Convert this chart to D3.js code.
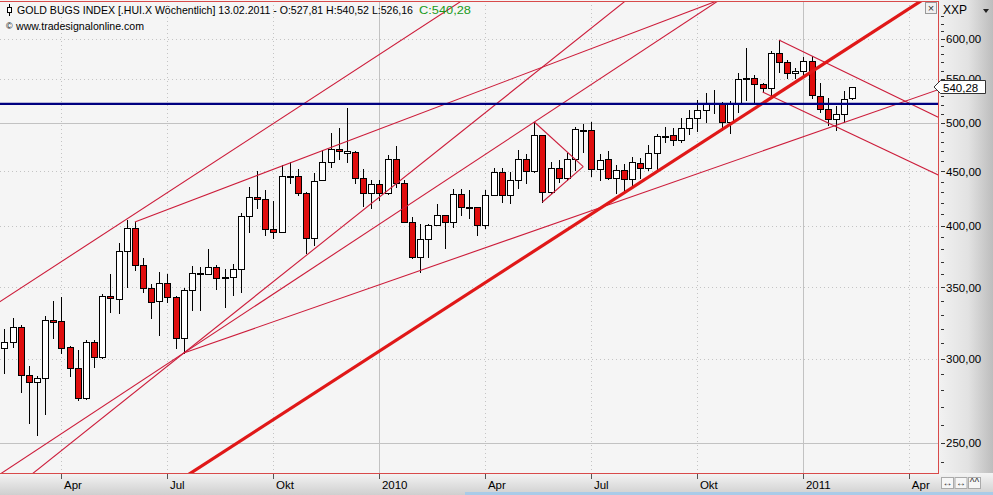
<!DOCTYPE html>
<html><head><meta charset="utf-8">
<script src="https://cdn.jsdelivr.net/npm/d3@7"></script>
<style>
body{margin:0;background:#fff;}
svg{display:block;font-family:"Liberation Sans",Arial,sans-serif;}
</style>
</head><body>
<svg id="c" width="993" height="495"></svg>
<script>
// ---------------- DATA ----------------
const firstWeek = "2009-02-15"; // weekly bars, one per week
const opens  = [306.9,311.0,321.3,289.6,285.2,287.7,326.2,325.5,307.6,294.0,275.4,311.0,301.0,343.6,341.3,378.8,398.1,367.4,349.6,339.9,
                353.4,342.8,313.7,348.1,361.1,360.3,365.8,358.0,358.0,364.2,408.6,425.8,424.0,397.3,394.7,444.6,445.6,429.5,389.6,441.7,
                459.3,472.5,468.4,469.4,443.6,429.5,437.8,429.5,462.3,438.8,403.4,373.8,388.7,400.6,409.5,403.4,428.5,416.6,416.6,400.6,
                427.6,449.4,427.6,441.7,462.3,450.4,487.0,430.4,453.4,443.6,462.3,492.3,492.3,452.4,462.3,443.6,451.4,442.7,458.3,453.4,
                468.4,486.0,487.0,481.8,494.5,505.3,514.1,521.9,521.9,500.9,521.9,551.0,551.0,544.0,539.3,581.6,570.5,557.0,559.4,571.6,
                530.0,515.2,504.2,509.6,527.81];
const highs  = [319.9,327.6,322.7,295.3,289.0,329.0,339.9,342.8,308.5,305.6,312.3,312.3,345.1,360.2,385.5,405.1,403.4,373.0,352.6,361.9,
                360.2,343.5,349.6,366.6,365.8,380.3,367.4,364.2,368.3,411.3,435.1,450.4,432.3,422.1,456.4,459.3,452.4,430.0,448.4,471.5,
                489.1,494.5,516.3,470.0,452.4,441.7,441.7,466.3,475.6,441.7,407.8,401.5,401.5,419.4,409.9,433.2,433.2,432.3,417.0,432.3,
                453.4,453.4,449.4,471.5,467.4,500.9,487.4,459.3,461.3,468.4,495.5,498.7,500.9,467.4,470.4,456.4,457.4,464.3,463.3,476.7,
                488.1,495.5,494.5,505.3,514.1,525.3,533.4,536.9,523.0,524.1,557.0,588.0,554.6,545.2,584.2,598.3,572.9,563.0,576.5,577.8,
                545.2,527.7,518.5,535.7,540.52];
const lows   = [290.8,307.6,279.1,260.9,254.2,266.0,313.7,303.6,288.9,274.2,275.0,294.6,300.5,331.9,331.2,350.3,363.4,346.6,327.6,315.7,
                339.1,306.9,303.6,333.3,333.3,360.0,348.8,335.5,344.3,346.6,394.7,415.7,392.2,389.6,394.5,438.8,427.6,377.1,383.7,441.5,
                454.4,462.3,459.3,438.8,417.6,415.7,423.0,429.0,435.1,403.0,373.0,361.9,373.8,400.3,381.3,399.0,409.5,406.9,392.2,398.0,
                427.2,421.2,420.3,434.1,438.8,449.4,421.2,429.5,439.8,441.7,451.4,469.4,445.6,441.7,442.7,429.5,429.5,436.0,443.6,451.4,
                451.4,479.7,476.7,479.7,488.1,491.3,500.9,510.8,492.3,489.1,511.9,525.3,523.0,534.6,528.8,558.2,551.0,551.0,552.2,527.7,
                511.9,497.8,492.3,500.9,526.16];
const closes = [311.0,321.3,289.6,285.2,287.7,326.2,324.8,306.9,294.0,275.4,311.0,301.0,343.6,342.1,378.8,398.1,367.4,349.6,339.1,353.4,
                342.8,313.7,348.1,361.1,360.3,365.8,357.2,357.2,364.2,408.6,425.8,424.0,397.3,394.7,445.6,445.6,429.5,389.6,440.7,459.3,
                472.5,470.4,470.4,443.6,429.5,437.8,429.5,462.3,438.8,403.4,373.8,388.7,400.6,409.5,403.4,428.5,416.6,415.9,400.6,427.6,
                449.4,427.6,441.7,462.3,450.4,487.0,430.4,453.4,443.6,462.3,493.4,491.3,452.4,461.3,443.6,451.4,442.7,459.3,453.4,468.4,
                486.0,484.9,481.8,494.5,505.3,514.1,520.8,520.8,500.9,521.9,549.8,549.8,544.0,539.3,581.6,570.5,557.0,559.4,571.6,531.1,
                515.2,504.2,509.6,526.4,540.28];

const xTickDates  = ["2009-04-05","2009-07-05","2009-10-04","2010-01-03","2010-04-04","2010-07-04","2010-10-03","2011-01-02","2011-04-03"];
const xTickLabels = ["Apr","Jul","Okt","2010","Apr","Jul","Okt","2011","Apr"];
const yTickValues = [250,300,350,400,450,500,550,600];
const solidYLevels = [250,500];
const blueLevel = 521;
const lastClose = 540.28;
const titleText = "GOLD BUGS INDEX [.HUI.X  Wöchentlich] 13.02.2011 - O:527,81 H:540,52 L:526,16";
const closeText = "C:540,28";
const sourceText = "www.tradesignalonline.com";

// trend lines: [weekIndex, price] anchor pairs + how far they run
const mainTrend = [[30,254],[100,565]];
const thinLines = [
  {a:[0,341.5],  b:[40,541.2],  run:"both"},
  {a:[16,403.4], b:[55,524.0],  run:"fwd"},
  {a:[22,303.6], b:[65,500.9],  run:"both"},
  {a:[22,303.6], b:[50,450.4],  run:"both"},
  {a:[22,303.6], b:[100,491.2], run:"fwd"},
  {a:[65,500.9], b:[71,454.7],  run:"seg"},
  {a:[66,421.2], b:[71,454.7],  run:"seg"},
  {a:[95,598.3], b:[114,508.5], run:"fwd"},
  {a:[93,534.6], b:[107.6,473.2], run:"fwd"}
];

// ---------------- CHART ----------------
const W = 993, H = 495;
const plot = {l:0, t:1, r:938, b:473};
const svg = d3.select("#c");
const day = 864e5;
const t0 = new Date(firstWeek + "T00:00:00Z").getTime();
const weekDate = i => new Date(t0 + i*7*day);
const parse = s => new Date(s + "T00:00:00Z");

const bars = opens.map((o,i)=>({d:weekDate(i), o, h:highs[i], l:lows[i], c:closes[i]}));

const x = d3.scaleUtc().domain([weekDate(0), weekDate(bars.length-1)]).range([4.4, 852.3]);
const y = d3.scaleLog().domain([250,600]).range([442.7,38.7]);

const defs = svg.append("defs");
const gR = defs.append("linearGradient").attr("id","gr").attr("x1","0").attr("x2","1").attr("y1","0").attr("y2","0");
gR.append("stop").attr("offset","0").attr("stop-color","#f2f2f2");
gR.append("stop").attr("offset","0.55").attr("stop-color","#e2e2e2");
gR.append("stop").attr("offset","1").attr("stop-color","#bdbdbd");
const gB = defs.append("linearGradient").attr("id","gb").attr("x1","0").attr("x2","0").attr("y1","0").attr("y2","1");
gB.append("stop").attr("offset","0").attr("stop-color","#f4f4f4");
gB.append("stop").attr("offset","1").attr("stop-color","#cfcfcf");
defs.append("clipPath").attr("id","clip").append("rect")
  .attr("x",plot.l).attr("y",plot.t).attr("width",plot.r-plot.l).attr("height",plot.b-plot.t);

// backgrounds
svg.append("rect").attr("x",0).attr("y",0).attr("width",W).attr("height",H).attr("fill","#f5f5f5");
svg.append("rect").attr("x",plot.r).attr("y",0).attr("width",W-plot.r).attr("height",plot.b).attr("fill","url(#gr)");
svg.append("rect").attr("x",0).attr("y",plot.b).attr("width",W).attr("height",H-plot.b).attr("fill","url(#gb)");
svg.append("rect").attr("x",465).attr("y",492).attr("width",W-465).attr("height",3).attr("fill","#a9cbe8");

const P = svg.append("g").attr("clip-path","url(#clip)");

// grid
const grid = P.append("g").attr("shape-rendering","crispEdges");
yTickValues.forEach(v=>{
  const solid = solidYLevels.includes(v);
  grid.append("line").attr("x1",plot.l).attr("x2",plot.r)
    .attr("y1",Math.round(y(v))+0.5).attr("y2",Math.round(y(v))+0.5)
    .attr("stroke", solid ? "#c2c2c2" : "#c4c4c4")
    .attr("stroke-dasharray", solid ? null : "1,3");
});
xTickDates.forEach((s,i)=>{
  const solid = /^\d{4}$/.test(xTickLabels[i]);
  const xx = Math.round(x(parse(s)))+0.5;
  grid.append("line").attr("x1",xx).attr("x2",xx).attr("y1",plot.t).attr("y2",plot.b)
    .attr("stroke", solid ? "#c2c2c2" : "#c4c4c4")
    .attr("stroke-dasharray", solid ? null : "1,3");
});

// candles
const cg = P.append("g").attr("shape-rendering","crispEdges");
bars.forEach(b=>{
  const cx = Math.round(x(b.d));
  cg.append("line").attr("x1",cx+0.5).attr("x2",cx+0.5)
    .attr("y1",Math.round(y(b.h))).attr("y2",Math.round(y(b.l))+1)
    .attr("stroke","#000").attr("stroke-width",1);
  const top = Math.round(y(Math.max(b.o,b.c))), bot = Math.round(y(Math.min(b.o,b.c)));
  cg.append("rect").attr("x",cx-3+0.5).attr("y",top+0.5)
    .attr("width",6).attr("height",Math.max(1,bot-top))
    .attr("fill", b.c>=b.o ? "#ffffff" : "#e00d0d")
    .attr("stroke","#000").attr("stroke-width",1);
});

// helper to draw a line through anchors
function pt(a){ return [x(weekDate(a[0])), y(a[1])]; }
function lineCoords(a,b,run){
  const p1 = pt(a), p2 = pt(b);
  const dx = p2[0]-p1[0], dy = p2[1]-p1[1];
  const len = Math.hypot(dx,dy), ux = dx/len, uy = dy/len, big = 3000;
  let s = p1, e = p2;
  if(run==="both"||run==="back") s = [p1[0]-ux*big, p1[1]-uy*big];
  if(run==="both"||run==="fwd")  e = [p2[0]+ux*big, p2[1]+uy*big];
  return [s,e];
}
const lg = P.append("g");
thinLines.forEach(L=>{
  const [s,e] = lineCoords(L.a,L.b,L.run);
  lg.append("line").attr("x1",s[0]).attr("y1",s[1]).attr("x2",e[0]).attr("y2",e[1])
    .attr("stroke","#cc1c3a").attr("stroke-width",1.1);
});
{
  const [s,e] = lineCoords(mainTrend[0],mainTrend[1],"both");
  lg.append("line").attr("x1",s[0]).attr("y1",s[1]).attr("x2",e[0]).attr("y2",e[1])
    .attr("stroke","#e01818").attr("stroke-width",3.2);
}
// blue horizontal level
lg.append("line").attr("x1",plot.l).attr("x2",plot.r)
  .attr("y1",y(blueLevel)).attr("y2",y(blueLevel))
  .attr("stroke","#000080").attr("stroke-width",2.2);

// plot border
const bg = svg.append("g").attr("shape-rendering","crispEdges");
bg.append("line").attr("x1",0).attr("x2",plot.r).attr("y1",1.5).attr("y2",1.5).attr("stroke","#d84a4a");
bg.append("line").attr("x1",0).attr("x2",plot.r+1).attr("y1",plot.b+0.5).attr("y2",plot.b+0.5).attr("stroke","#d84a4a");
bg.append("line").attr("x1",plot.r+0.5).attr("x2",plot.r+0.5).attr("y1",1).attr("y2",plot.b+1).attr("stroke","#d84a4a");

// bottom axis
const xAxis = d3.axisBottom(x).tickValues(xTickDates.map(parse))
  .tickFormat((d,i)=>xTickLabels[i]).tickSize(5).tickSizeOuter(0);
const xg = svg.append("g").attr("transform",`translate(0,${plot.b+1})`).call(xAxis);
xg.select(".domain").remove();
xg.selectAll(".tick line").attr("stroke","#555").attr("shape-rendering","crispEdges");
xg.selectAll(".tick text").attr("text-anchor","start").attr("x",2).attr("y",7)
  .attr("font-size","11.5px").attr("fill","#000").attr("font-family","Liberation Sans, Arial, sans-serif");

// right axis (major + minor ticks)
const yAxis = d3.axisRight(y).tickValues(yTickValues)
  .tickFormat(d=>d.toFixed(2).replace(".",",")).tickSize(4).tickSizeOuter(0);
const yg = svg.append("g").attr("transform",`translate(${plot.r+3},0)`).call(yAxis);
yg.select(".domain").remove();
yg.selectAll(".tick line").attr("stroke","#333").attr("shape-rendering","crispEdges");
yg.selectAll(".tick text").attr("x",5).attr("font-size","11.5px").attr("fill","#000")
  .attr("font-family","Liberation Sans, Arial, sans-serif");
const minorVals = d3.range(240,640,10).filter(v=>!yTickValues.includes(v) && y(v)>plot.t+2 && y(v)<plot.b);
const ymg = svg.append("g").attr("transform",`translate(${plot.r+3},0)`)
  .call(d3.axisRight(y).tickValues(minorVals).tickFormat("").tickSize(3).tickSizeOuter(0));
ymg.select(".domain").remove();
ymg.selectAll(".tick line").attr("stroke","#333").attr("shape-rendering","crispEdges");

// last price marker (covers part of the 550 label, as in the original)
{
  const yy = Math.round(y(lastClose));
  const m = svg.append("g");
  m.append("path").attr("d",`M934,${yy} L940.5,${yy-6.5} L985.5,${yy-6.5} L985.5,${yy+6.5} L940.5,${yy+6.5} Z`)
    .attr("fill","#fff").attr("stroke","#333").attr("stroke-width",1);
  m.append("text").attr("x",943).attr("y",yy+4.5).attr("font-size","11.5px").text(lastClose.toFixed(2).replace(".",","));
}

// header
{
  const ic = svg.append("g").attr("shape-rendering","crispEdges");
  ic.append("line").attr("x1",9.5).attr("x2",9.5).attr("y1",4).attr("y2",16).attr("stroke","#000");
  ic.append("rect").attr("x",7.5).attr("y",7.5).attr("width",4).attr("height",5).attr("fill","#fff").attr("stroke","#000");
  svg.append("text").attr("x",17).attr("y",14).attr("font-size","10.5px").attr("fill","#000")
    .text(titleText).attr("textLength",396).attr("lengthAdjust","spacingAndGlyphs");
  svg.append("text").attr("x",419).attr("y",14).attr("font-size","11px").attr("fill","#1a9a1a")
    .text(closeText).attr("textLength",52).attr("lengthAdjust","spacingAndGlyphs");
  svg.append("text").attr("x",6).attr("y",29).attr("font-size","9px").text("©");
  svg.append("text").attr("x",16).attr("y",29.5).attr("font-size","11px")
    .text(sourceText).attr("textLength",128).attr("lengthAdjust","spacingAndGlyphs");
}

// top-right controls
{
  const g = svg.append("g");
  g.append("rect").attr("x",925.5).attr("y",2.5).attr("width",11).attr("height",11).attr("fill","#f0f0f0").attr("stroke","#999");
  g.append("text").attr("x",931).attr("y",12).attr("text-anchor","middle").attr("font-size","11px").attr("fill","#333").text("×");
  g.append("text").attr("x",943).attr("y",14).attr("font-size","12px").text("XXP");
  g.append("path").attr("d","M983,9 L989,9 L986,13 Z").attr("fill","#222");
  const labels = ["↔","↔","^^"];
  labels.forEach((s,i)=>{
    g.append("rect").attr("x",941.5+i*13.5).attr("y",477.5).attr("width",12).attr("height",11)
      .attr("fill","#f6f6f6").attr("stroke","#aaa");
    g.append("text").attr("x",947.5+i*13.5).attr("y",486).attr("text-anchor","middle")
      .attr("font-size","10px").attr("fill","#333").text(s);
  });
}
</script>
</body></html>
